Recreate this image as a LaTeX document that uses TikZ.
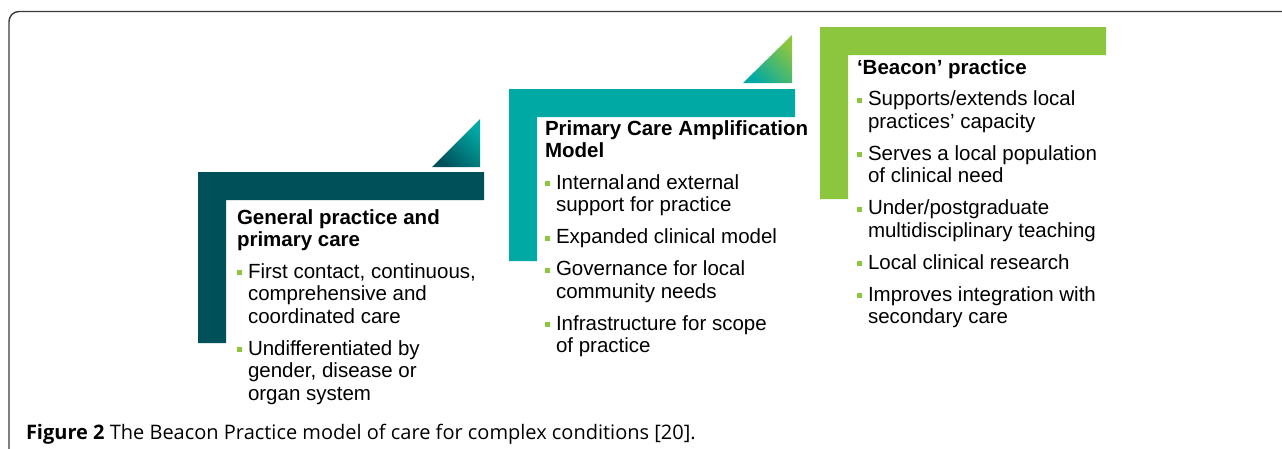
\documentclass[tikz,border=0pt]{standalone}
\usepackage{fontspec}
\setmainfont{Liberation Sans}
\newfontfamily\capfont{Open Sans}
\definecolor{dteal}{HTML}{00505A}
\definecolor{mteal}{HTML}{00A9A4}
\definecolor{bgreen}{HTML}{8CC63F}
\definecolor{framegray}{HTML}{3A3A3A}
\newcommand\bitem{\par\vspace{9.4pt}\noindent\makebox[11pt][l]{\textcolor{bgreen}{\rule[3pt]{5pt}{5pt}}}}
\newcommand\cont{\\\hspace*{11pt}}
\newcommand\blocktext[1]{\begin{minipage}[t]{270pt}\raggedright\fontsize{20.5pt}{22.5pt}\selectfont #1\end{minipage}}
\begin{document}
\begin{tikzpicture}[x=1pt,y=-1pt,
  blk/.style={anchor=base west, inner sep=0pt, outer sep=0pt}]
\useasboundingbox (0,0) rectangle (1282,448);
% frame
\draw[framegray, line width=1.4pt, rounded corners=10pt] (9,460) -- (9,11.5) -- (1300,11.5);
% L-shapes
\fill[dteal] (198,172) -- (484,172) -- (484,200) -- (226,200) -- (226,343) -- (198,343) -- cycle;
\fill[mteal] (509,89) -- (795,89) -- (795,117) -- (537,117) -- (537,261) -- (509,261) -- cycle;
\fill[bgreen] (820,27) -- (1106,27) -- (1106,55) -- (848,55) -- (848,199) -- (820,199) -- cycle;
% triangles
\shade[bottom color=dteal, top color=mteal, shading angle=-45] (432,167) -- (480,167) -- (480,119) -- cycle;
\shade[bottom color=mteal, top color=bgreen, shading angle=-45] (743,83) -- (792,83) -- (792,35) -- cycle;
% texts
\node[blk] (t1) at (237,224) {\blocktext{%
  \textbf{General practice and\\primary care}%
  \bitem First contact, continuous,\cont comprehensive and\cont coordinated care%
  \bitem Undifferentiated by\cont gender, disease or\cont organ system}};
\node[blk] (t2) at (545,135) {\blocktext{%
  \textbf{Primary Care Amplification\\Model}%
  \bitem Internal\hspace{2pt}and external\cont support for practice%
  \bitem Expanded clinical model%
  \bitem Governance for local\cont community needs%
  \bitem Infrastructure for scope\cont of practice}};
\node[blk] (t3) at (857,74) {\blocktext{%
  \textbf{‘Beacon’ practice}%
  \bitem Supports/extends local\cont practices’ capacity%
  \bitem Serves a local population\cont of clinical need%
  \bitem Under/postgraduate\cont multidisciplinary teaching%
  \bitem Local clinical research%
  \bitem Improves integration with\cont secondary care}};
\node[blk] (cap) at (26,439) {\capfont\fontsize{20pt}{22pt}\selectfont\textbf{Figure 2} The Beacon Practice model of care for complex conditions [20].};
\end{tikzpicture}
\end{document}
